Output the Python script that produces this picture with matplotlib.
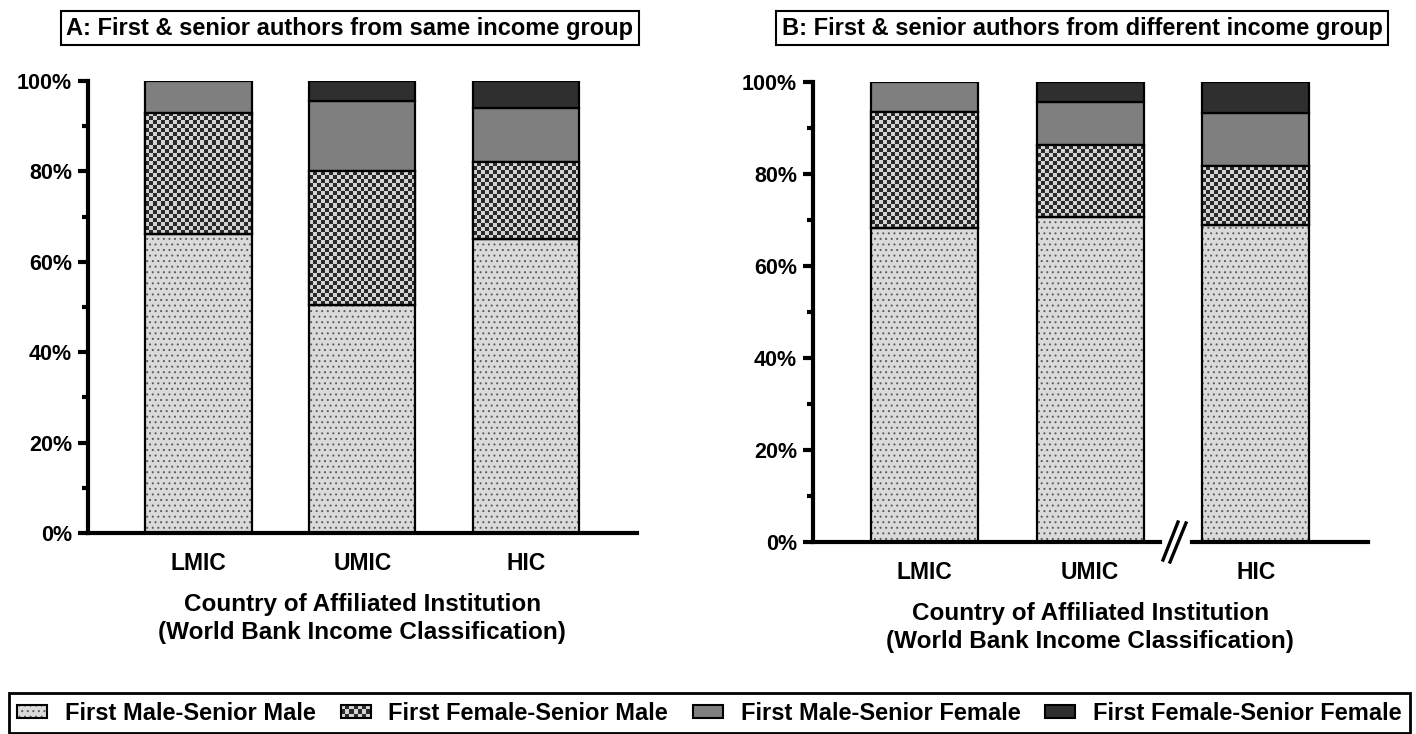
import numpy as np
import matplotlib
matplotlib.use('Agg')
import matplotlib.pyplot as plt
from matplotlib.colors import ListedColormap
from matplotlib.lines import Line2D
from matplotlib.patches import Rectangle
from matplotlib.legend_handler import HandlerBase
from matplotlib.ticker import MultipleLocator, PercentFormatter

plt.rcParams['font.family'] = ['Liberation Sans', 'DejaVu Sans']
plt.rcParams['font.weight'] = 'bold'
plt.rcParams['hatch.linewidth'] = 0.7

categories = ['LMIC', 'UMIC', 'HIC']
series = ['First Male-Senior Male', 'First Female-Senior Male',
          'First Male-Senior Female', 'First Female-Senior Female']

# percent of papers, panel A (same income group)
same_mm = [66.2, 50.4, 65.0]
same_fm = [26.8, 29.6, 17.0]
same_mf = [7.0, 15.6, 12.1]
same_ff = [0.0, 4.4, 5.9]

# panel B (different income group)
diff_mm = [68.3, 70.6, 69.0]
diff_fm = [25.1, 15.6, 12.8]
diff_mf = [6.6, 9.5, 11.4]
diff_ff = [0.0, 4.3, 6.8]

DOT_BG = '#dadada'
DOT_FG = '#5a5a5a'
CHK_LIGHT = '#d4d4d4'
CHK_DARK = '#2a2a2a'
MID = '#7f7f7f'
DARK = '#2f2f2f'
EDGE_LW = 1.6
SPINE_LW = 3.0

W, H = 1416, 734
fig = plt.figure(figsize=(W / 100, H / 100), dpi=100)


def px_axes(x0, x1, y_top, y_bot):
    return fig.add_axes([x0 / W, 1 - y_bot / H, (x1 - x0) / W, (y_bot - y_top) / H])


def style_axes(ax, xlim, left=True):
    ax.set_xlim(*xlim)
    ax.set_ylim(0, 100)
    ax.set_autoscale_on(False)
    for s in ['top', 'right']:
        ax.spines[s].set_visible(False)
    ax.spines['bottom'].set_linewidth(SPINE_LW)
    ax.spines['left'].set_linewidth(SPINE_LW)
    ax.spines['left'].set_visible(left)
    ax.tick_params(axis='x', length=0, pad=14, labelsize=16.5)
    if left:
        ax.yaxis.set_major_locator(MultipleLocator(20))
        ax.yaxis.set_minor_locator(MultipleLocator(10))
        ax.yaxis.set_major_formatter(PercentFormatter(decimals=0))
        ax.tick_params(axis='y', which='major', length=7.5, width=SPINE_LW,
                       pad=4, labelsize=15.5)
        ax.tick_params(axis='y', which='minor', length=4, width=SPINE_LW)
    else:
        ax.tick_params(axis='y', which='both', left=False, labelleft=False)


def checker_fill(ax, bar, cell=4):
    x0, y0 = bar.get_x(), bar.get_y()
    x1, y1 = x0 + bar.get_width(), y0 + bar.get_height()
    if y1 - y0 <= 0:
        return
    (px0, py0), (px1, py1) = ax.transData.transform([(x0, y0), (x1, y1)])
    nx = max(1, int(round((px1 - px0) / cell)))
    ny = max(1, int(round((py1 - py0) / cell)))
    grid = (np.add.outer(np.arange(ny), np.arange(nx)) % 2)
    im = ax.imshow(grid, extent=(x0, x1, y0, y1), origin='lower', aspect='auto',
                   interpolation='nearest', cmap=ListedColormap([CHK_LIGHT, CHK_DARK]),
                   zorder=2.5)
    im.set_clip_path(bar)


def outline(ax, bar):
    ax.add_patch(Rectangle((bar.get_x(), bar.get_y()), bar.get_width(), bar.get_height(),
                           fill=False, edgecolor='black', lw=EDGE_LW, zorder=3))


def stacked(ax, idx, mm, fm, mf, ff, width):
    mm, fm, mf, ff = (np.asarray(v, dtype=float) for v in (mm, fm, mf, ff))
    # dotted bars take their hatch colour from the edge, so outline them separately
    dots = ax.bar(idx, mm, width, color=DOT_BG, edgecolor=DOT_FG, lw=0,
                  hatch='...', zorder=2)
    chk = ax.bar(idx, fm, width, bottom=mm, color=CHK_LIGHT, edgecolor='black',
                 lw=EDGE_LW, zorder=2)
    ax.bar(idx, mf, width, bottom=mm + fm, color=MID, edgecolor='black',
           lw=EDGE_LW, zorder=2)
    keep = ff > 0
    ax.bar(np.asarray(idx)[keep], ff[keep], width, bottom=(mm + fm + mf)[keep],
           color=DARK, edgecolor='black', lw=EDGE_LW, zorder=2)
    for b in dots:
        outline(ax, b)
    for b in chk:
        checker_fill(ax, b)
        outline(ax, b)


def xlabel_at(ax, xpos):
    ax.annotate('Country of Affiliated Institution\n(World Bank Income Classification)',
                xy=(xpos, 0), xycoords=('data', 'axes fraction'),
                xytext=(0, -43), textcoords='offset points',
                ha='center', va='top', fontsize=17.5, linespacing=1.28)


x = np.arange(len(categories))

# panel A
axA = px_axes(88, 637, 81, 533)
style_axes(axA, (-0.675, 2.678))
stacked(axA, x, same_mm, same_fm, same_mf, same_ff, 0.65)
axA.set_xticks(x)
axA.set_xticklabels(categories)
xlabel_at(axA, 1)

# panel B, broken x axis before HIC
axB1 = px_axes(813, 1160, 82, 542)
axB2 = px_axes(1192, 1368, 82, 542)
style_axes(axB1, (-0.673, 1.421))
style_axes(axB2, (1.614, 2.676), left=False)
stacked(axB1, x[:2], diff_mm[:2], diff_fm[:2], diff_mf[:2], diff_ff[:2], 0.646)
stacked(axB2, x[2:], diff_mm[2:], diff_fm[2:], diff_mf[2:], diff_ff[2:], 0.646)
axB1.set_xticks(x[:2])
axB1.set_xticklabels(categories[:2])
axB2.set_xticks(x[2:])
axB2.set_xticklabels(categories[2:])
xlabel_at(axB1, 1)

for (xa, ya), (xb, yb) in [((1163, 560), (1178, 522)), ((1170, 562), (1186, 523))]:
    fig.add_artist(Line2D([xa / W, xb / W], [1 - ya / H, 1 - yb / H],
                          color='black', lw=2.4, transform=fig.transFigure))

# panel titles
box = dict(boxstyle='square,pad=0.25', facecolor='white', edgecolor='black', lw=1.5)
fig.text(350 / W, 1 - 28 / H, 'A: First & senior authors from same income group',
         ha='center', va='center', fontsize=17, bbox=box)
fig.text(1082 / W, 1 - 28 / H, 'B: First & senior authors from different income group',
         ha='center', va='center', fontsize=17, bbox=box)


class CheckerHandler(HandlerBase):
    def create_artists(self, legend, orig_handle, xdescent, ydescent,
                       width, height, fontsize, trans):
        x0, y0 = -xdescent, -ydescent
        arts = [Rectangle((x0, y0), width, height, facecolor=CHK_LIGHT,
                          edgecolor='none', transform=trans)]
        nx, ny = 7, 3
        cw, ch = width / nx, height / ny
        for i in range(ny):
            for j in range(nx):
                if (i + j) % 2:
                    arts.append(Rectangle((x0 + j * cw, y0 + i * ch), cw, ch,
                                          facecolor=CHK_DARK, edgecolor='none',
                                          transform=trans))
        arts.append(Rectangle((x0, y0), width, height, fill=False,
                              edgecolor='black', lw=1.5, transform=trans))
        return arts


class DotHandler(HandlerBase):
    def create_artists(self, legend, orig_handle, xdescent, ydescent,
                       width, height, fontsize, trans):
        x0, y0 = -xdescent, -ydescent
        return [Rectangle((x0, y0), width, height, facecolor=DOT_BG, edgecolor=DOT_FG,
                          lw=0, hatch='...', transform=trans),
                Rectangle((x0, y0), width, height, fill=False,
                          edgecolor='black', lw=1.5, transform=trans)]


handles = [
    Rectangle((0, 0), 1, 1, facecolor=DOT_BG, edgecolor='black', lw=1.5),
    Rectangle((0, 0), 1, 1, facecolor=CHK_LIGHT, edgecolor='black', lw=1.5),
    Rectangle((0, 0), 1, 1, facecolor=MID, edgecolor='black', lw=1.5),
    Rectangle((0, 0), 1, 1, facecolor=DARK, edgecolor='black', lw=1.5),
]
leg = fig.legend(handles, series, loc='lower left',
                 bbox_to_anchor=(9 / W, 1 / H, (1410 - 9) / W, 0.05),
                 mode='expand', ncol=4, fontsize=17,
                 handlelength=1.27, handleheight=0.5, handletextpad=0.75,
                 borderpad=0.35, borderaxespad=0, fancybox=False,
                 framealpha=1, edgecolor='black',
                 handler_map={handles[0]: DotHandler(), handles[1]: CheckerHandler()})
leg.get_frame().set_linewidth(2)

fig.savefig('out.png', dpi=100)
